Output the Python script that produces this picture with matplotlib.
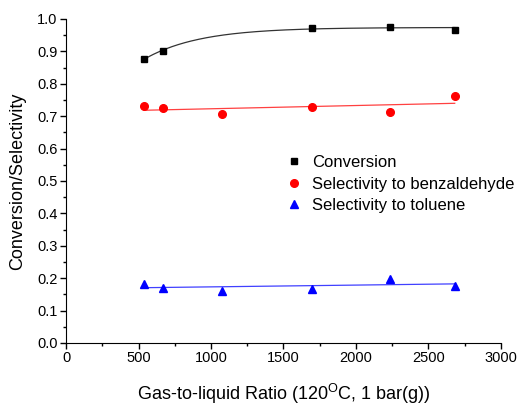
import numpy as np
import matplotlib
matplotlib.use("Agg")
import matplotlib.pyplot as plt
from matplotlib.ticker import MultipleLocator

plt.rcParams['font.family'] = ['Liberation Sans', 'DejaVu Sans']

# data
ratio = [538, 671, 1074, 1699, 2234, 2681]
conv_x = [538, 671, 1699, 2234, 2681]
conversion = [0.877, 0.902, 0.973, 0.976, 0.967]
sel_benz = [0.730, 0.726, 0.707, 0.728, 0.713, 0.762]
sel_tol = [0.181, 0.171, 0.161, 0.168, 0.197, 0.177]

fig = plt.figure(figsize=(5.17, 4.12), dpi=100)
ax = fig.add_axes([0.1277, 0.1675, 0.8413, 0.7865])

# fits: exponential rise for conversion, straight lines for selectivities
cx = np.array(conv_x, float)
cy = np.array(conversion)
best = None
for t in np.linspace(100, 2000, 800):
    A = np.column_stack([np.ones_like(cx), np.exp(-cx / t)])
    coef, res, *_ = np.linalg.lstsq(A, cy, rcond=None)
    r = np.sum((A @ coef - cy) ** 2)
    if best is None or r < best[0]:
        best = (r, t, coef)
_, t, coef = best
xf = np.linspace(ratio[0], ratio[-1], 200)
ax.plot(xf, coef[0] + coef[1] * np.exp(-xf / t), color='#333333', lw=0.9)
pb = np.polyfit(ratio, sel_benz, 1)
ax.plot(xf, np.polyval(pb, xf), color='#ff4040', lw=0.9)
pt = np.polyfit(ratio, sel_tol, 1)
ax.plot(xf, np.polyval(pt, xf), color='#4040ff', lw=0.9)

ax.plot(conv_x, conversion, 's', color='black', ms=5, label='Conversion')
ax.plot(ratio, sel_benz, 'o', color='red', ms=5.5, label='Selectivity to benzaldehyde')
ax.plot(ratio, sel_tol, '^', color='blue', ms=6, label='Selectivity to toluene')

ax.set_xlim(0, 3000)
ax.set_ylim(0, 1.0)
ax.xaxis.set_major_locator(MultipleLocator(500))
ax.xaxis.set_minor_locator(MultipleLocator(250))
ax.yaxis.set_major_locator(MultipleLocator(0.1))
ax.yaxis.set_minor_locator(MultipleLocator(0.05))
ax.set_yticklabels([f'{v:.1f}' for v in ax.get_yticks()])
ax.spines['top'].set_visible(False)
ax.spines['right'].set_visible(False)
ax.tick_params(which='major', direction='out', length=4, width=1, labelsize=10.5, pad=2)
ax.tick_params(which='minor', direction='out', length=2, width=1)

ax.set_xlabel('Gas-to-liquid Ratio (120$^{\\mathregular{O}}$C, 1 bar(g))', fontsize=13, labelpad=12)
ax.set_ylabel('Conversion/Selectivity', fontsize=13, labelpad=8)

ax.legend(loc='upper left', bbox_to_anchor=(0.49, 0.60), frameon=False, fontsize=12,
          handlelength=1.0, handletextpad=0.6, labelspacing=0.38, borderaxespad=0)

fig.savefig('out.png', dpi=100)
